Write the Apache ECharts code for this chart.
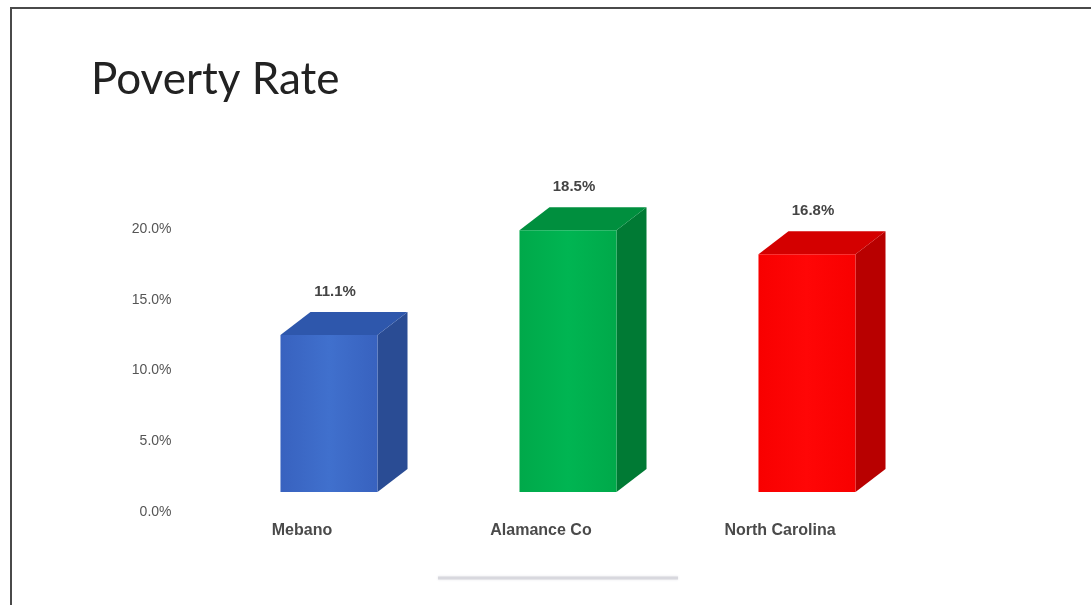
<!DOCTYPE html>
<html>
<head>
<meta charset="utf-8">
<title>Poverty Rate</title>
<script src="https://cdn.jsdelivr.net/npm/echarts@6/dist/echarts.min.js"></script>
<style>
  html, body { margin: 0; padding: 0; background: #ffffff; }
  #chart { width: 1091px; height: 605px; }
</style>
</head>
<body>
<div id="chart"></div>
<script>
// Poverty rate by area
const categories = ['Mebano', 'Alamance Co', 'North Carolina'];
const rates = [11.1, 18.5, 16.8];
const axisTicks = [0, 5, 10, 15, 20];

// Face colours for each box: front, side, top
const faceColors = [
  { front: ['#3862bf', '#4070cd', '#3862bf'], side: '#2a4c94', top: '#2e57ac' },
  { front: ['#00a94a', '#00b552', '#00a94a'], side: '#007a34', top: '#008f3e' },
  { front: ['#f80000', '#ff0606', '#f80000'], side: '#b80000', top: '#d40000' }
];

const DEPTH_X = 30;
const DEPTH_Y = -23;

function renderBox(params, api) {
  const idx = api.value(0);
  const val = api.value(1);
  const top = api.coord([idx, val]);
  const base = api.coord([idx, 0]);
  const w = api.size([1, 0])[0] * 0.406;
  const cx = top[0];
  const xl = cx - w / 2;
  const xr = cx + w / 2;
  const yt = top[1];
  const yb = base[1];
  const c = faceColors[idx];
  return {
    type: 'group',
    children: [
      {
        type: 'polygon',
        shape: { points: [[xr, yt], [xr + DEPTH_X, yt + DEPTH_Y], [xr + DEPTH_X, yb + DEPTH_Y], [xr, yb]] },
        style: { fill: c.side }
      },
      {
        type: 'polygon',
        shape: { points: [[xl, yt], [xl + DEPTH_X, yt + DEPTH_Y], [xr + DEPTH_X, yt + DEPTH_Y], [xr, yt]] },
        style: { fill: c.top }
      },
      {
        type: 'rect',
        shape: { x: xl, y: yt, width: w, height: yb - yt },
        style: {
          fill: new echarts.graphic.LinearGradient(0, 0, 1, 0, [
            { offset: 0, color: c.front[0] },
            { offset: 0.5, color: c.front[1] },
            { offset: 1, color: c.front[2] }
          ])
        }
      },
      {
        type: 'text',
        style: {
          x: cx + 6,
          y: yt + DEPTH_Y - 20,
          text: val.toFixed(1) + '%',
          align: 'center',
          verticalAlign: 'middle',
          fill: '#444444',
          font: 'bold 15px "Liberation Sans", Arial, sans-serif'
        }
      }
    ]
  };
}

const chart = echarts.init(document.getElementById('chart'), null, { renderer: 'canvas' });

chart.setOption({
  backgroundColor: '#ffffff',
  animation: false,
  title: {
    text: 'Poverty Rate',
    left: 86,
    top: 53,
    textStyle: {
      fontFamily: 'Lato, sans-serif',
      fontWeight: 400,
      fontSize: 44,
      color: '#222222'
    }
  },
  grid: [
    // boxes
    { left: 209.5, right: 164.5, top: 209, bottom: 113 },
    // axis labels
    { left: 182.5, right: 191.5, top: 229, bottom: 93 }
  ],
  xAxis: [
    {
      gridIndex: 0, type: 'category', data: categories,
      axisLine: { show: false }, axisTick: { show: false }, axisLabel: { show: false }
    },
    {
      gridIndex: 1, type: 'category', data: categories,
      axisLine: { show: false }, axisTick: { show: false },
      axisLabel: {
        margin: 11,
        fontFamily: '"Liberation Sans", Arial, sans-serif',
        fontSize: 16,
        fontWeight: 'bold',
        color: '#4a4a4a'
      }
    }
  ],
  yAxis: [
    {
      gridIndex: 0, type: 'value', min: 0, max: 20,
      axisLine: { show: false }, axisTick: { show: false },
      axisLabel: { show: false }, splitLine: { show: false }
    },
    {
      gridIndex: 1, type: 'value',
      min: axisTicks[0], max: axisTicks[axisTicks.length - 1], interval: axisTicks[1] - axisTicks[0],
      axisLine: { show: false }, axisTick: { show: false }, splitLine: { show: false },
      axisLabel: {
        margin: 11,
        fontFamily: '"Liberation Sans", Arial, sans-serif',
        fontSize: 14,
        color: '#555555',
        formatter: v => v.toFixed(1) + '%'
      }
    }
  ],
  series: [
    {
      type: 'custom',
      xAxisIndex: 0,
      yAxisIndex: 0,
      data: rates.map((r, i) => [i, r]),
      renderItem: renderBox
    }
  ],
  graphic: [
    // frame edges
    { type: 'rect', shape: { x: 10, y: 7, width: 1081, height: 2 }, style: { fill: '#4a4a4a' }, z: 100 },
    { type: 'rect', shape: { x: 10, y: 7, width: 2, height: 598 }, style: { fill: '#4a4a4a' }, z: 100 },
    // faint strip under the chart
    {
      type: 'line',
      shape: { x1: 438, y1: 578, x2: 678, y2: 578 },
      style: { stroke: '#d8d8de', lineWidth: 3, shadowBlur: 3, shadowColor: '#e4e4ea' }
    }
  ]
});
</script>
</body>
</html>
